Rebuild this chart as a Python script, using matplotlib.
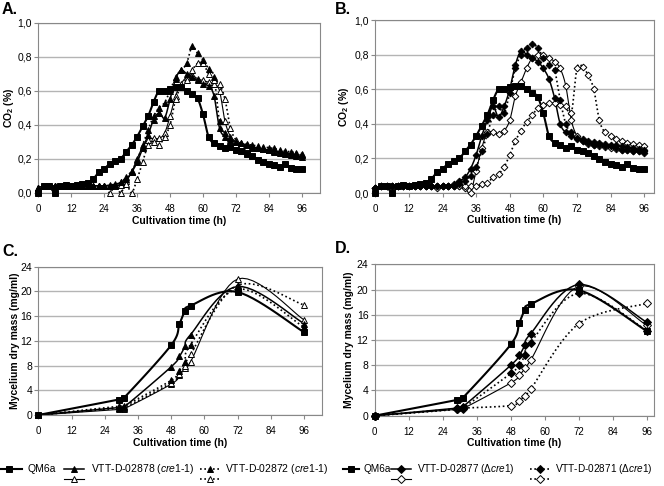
import numpy as np
import matplotlib
matplotlib.use("Agg")
import matplotlib.pyplot as plt
from matplotlib.lines import Line2D
from matplotlib.ticker import FuncFormatter

plt.rcParams["font.family"] = "Liberation Sans"
plt.rcParams["mathtext.fontset"] = "custom"
plt.rcParams["mathtext.rm"] = "Liberation Sans"
plt.rcParams["mathtext.it"] = "Liberation Sans:italic"
plt.rcParams["mathtext.bf"] = "Liberation Sans:bold"

# ---- CO2 data (every 2 h) ----
t_co2 = [0, 2, 4, 6, 8, 10, 12, 14, 16, 18, 20, 22, 24, 26, 28, 30, 32, 34, 36, 38,
         40, 42, 44, 46, 48, 50, 52, 54, 56, 58, 60, 62, 64, 66, 68, 70, 72, 74, 76, 78,
         80, 82, 84, 86, 88, 90, 92, 94, 96]

co2_qm6a = [0.00, 0.04, 0.04, 0.00, 0.04, 0.045, 0.04, 0.045, 0.05, 0.055, 0.08, 0.12, 0.14,
            0.17, 0.185, 0.20, 0.24, 0.28, 0.33, 0.39, 0.45, 0.535, 0.60, 0.60, 0.61, 0.62,
            0.62, 0.60, 0.58, 0.555, 0.46, 0.33, 0.29, 0.275, 0.26, 0.27, 0.25, 0.245, 0.23,
            0.215, 0.195, 0.18, 0.17, 0.16, 0.15, 0.17, 0.145, 0.14, 0.14]

co2_02878_f = [0.03, 0.04, 0.04, 0.04, 0.04, 0.04, 0.04, 0.04, 0.04, 0.04, 0.04, 0.04, 0.04,
               0.045, 0.05, 0.06, 0.08, 0.12, 0.18, 0.26, 0.34, 0.43, 0.47, 0.44, 0.55, 0.67,
               0.72, 0.70, 0.68, 0.66, 0.64, 0.63, 0.57, 0.38, 0.33, 0.31, 0.30, 0.29, 0.28,
               0.27, 0.26, 0.255, 0.25, 0.24, 0.235, 0.23, 0.22, 0.215, 0.21]

co2_02878_o = [0.03, 0.04, 0.04, 0.04, 0.04, 0.04, 0.04, 0.04, 0.04, 0.04, 0.04, 0.04, 0.04,
               0.04, 0.04, 0.045, 0.07, 0.12, 0.20, 0.27, 0.31, 0.32, 0.32, 0.35, 0.45, 0.57,
               0.64, 0.68, 0.69, 0.67, 0.66, 0.65, 0.64, 0.60, 0.42, 0.33, 0.30, 0.285, 0.275,
               0.27, 0.26, 0.255, 0.25, 0.245, 0.24, 0.235, 0.23, 0.225, 0.22]

co2_02872_f = [0.03, 0.04, 0.04, 0.04, 0.04, 0.04, 0.04, 0.04, 0.04, 0.04, 0.04, 0.04, 0.04,
               0.04, 0.045, 0.06, 0.09, 0.13, 0.19, 0.28, 0.37, 0.45, 0.50, 0.53, 0.60, 0.68,
               0.72, 0.76, 0.86, 0.82, 0.78, 0.73, 0.68, 0.42, 0.35, 0.32, 0.30, 0.29, 0.285,
               0.28, 0.275, 0.27, 0.265, 0.26, 0.25, 0.245, 0.24, 0.235, 0.23]

co2_02872_o = [0.03, 0.04, 0.04, 0.04, 0.04, 0.04, 0.04, 0.04, 0.04, 0.04, 0.04, 0.04, 0.04,
               0.00, 0.04, 0.00, 0.05, 0.00, 0.08, 0.18, 0.28, 0.30, 0.28, 0.33, 0.40, 0.55,
               0.62, 0.66, 0.72, 0.76, 0.76, 0.70, 0.66, 0.64, 0.55, 0.38, 0.31, 0.28, 0.27,
               0.265, 0.26, 0.255, 0.25, 0.245, 0.24, 0.235, 0.23, 0.225, 0.22]

co2_02877_f = [0.03, 0.04, 0.04, 0.04, 0.04, 0.04, 0.04, 0.04, 0.04, 0.04, 0.04, 0.04, 0.04,
               0.04, 0.05, 0.07, 0.09, 0.14, 0.22, 0.33, 0.42, 0.50, 0.44, 0.50, 0.60, 0.74,
               0.82, 0.80, 0.78, 0.76, 0.72, 0.66, 0.55, 0.40, 0.35, 0.33, 0.31, 0.30, 0.29,
               0.28, 0.28, 0.27, 0.27, 0.26, 0.25, 0.25, 0.24, 0.24, 0.23]

co2_02877_o = [0.03, 0.04, 0.04, 0.04, 0.04, 0.04, 0.04, 0.04, 0.04, 0.04, 0.04, 0.04, 0.04,
               0.04, 0.04, 0.04, 0.03, 0.00, 0.13, 0.26, 0.35, 0.35, 0.34, 0.36, 0.42, 0.56,
               0.64, 0.72, 0.78, 0.80, 0.80, 0.78, 0.76, 0.72, 0.62, 0.42, 0.33, 0.30, 0.285,
               0.275, 0.27, 0.265, 0.26, 0.255, 0.25, 0.25, 0.245, 0.24, 0.24]

co2_02871_f = [0.03, 0.04, 0.04, 0.04, 0.04, 0.04, 0.04, 0.04, 0.04, 0.04, 0.04, 0.04, 0.04,
               0.04, 0.04, 0.05, 0.07, 0.10, 0.15, 0.24, 0.34, 0.45, 0.50, 0.46, 0.58, 0.72,
               0.80, 0.84, 0.86, 0.84, 0.78, 0.74, 0.71, 0.54, 0.40, 0.35, 0.32, 0.31, 0.30,
               0.295, 0.29, 0.285, 0.28, 0.275, 0.27, 0.265, 0.26, 0.255, 0.25]

co2_02871_o = [0.03, 0.04, 0.04, 0.04, 0.04, 0.04, 0.04, 0.04, 0.04, 0.04, 0.04, 0.03, 0.04,
               0.04, 0.04, 0.04, 0.04, 0.04, 0.04, 0.05, 0.06, 0.09, 0.11, 0.15, 0.22, 0.30,
               0.36, 0.41, 0.45, 0.49, 0.51, 0.52, 0.52, 0.51, 0.50, 0.46, 0.72, 0.73, 0.68,
               0.60, 0.42, 0.35, 0.33, 0.31, 0.30, 0.29, 0.285, 0.28, 0.27]

# ---- mycelium dry mass data ----
t_dm = [0, 29, 31, 48, 51, 53, 55, 72, 96]
dm_qm6a = [0.0, 2.5, 2.8, 11.3, 14.7, 16.8, 17.7, 19.9, 13.4]
dm_02878_f = [0.0, 1.2, 1.3, 7.8, 9.5, 11.1, 13.0, 20.8, 14.8]
dm_02878_o = [0.0, 0.9, 1.0, 5.0, 6.4, 7.6, 8.6, 22.0, 15.4]
dm_02872_f = [0.0, 1.4, 1.5, 5.6, 7.2, 8.6, 11.4, 20.4, 14.2]
dm_02872_o = [0.0, 1.1, 1.2, 5.2, 6.6, 8.0, 9.8, 21.0, 17.8]
dm_02877_f = [0.0, 1.2, 1.4, 8.0, 9.6, 11.2, 13.0, 20.8, 14.8]
dm_02877_o = [0.0, 1.0, 1.1, 5.2, 6.4, 7.5, 8.8, 20.5, 14.3]
dm_02871_f = [0.0, 1.0, 1.2, 6.7, 8.0, 9.6, 11.6, 19.4, 13.5]
dm_02871_o = [0.0, 1.1, 1.2, 1.6, 2.4, 3.2, 4.2, 14.6, 17.8]

x_ticks = [0, 12, 24, 36, 48, 60, 72, 84, 96]

W, H = 664, 486
DOT = (0, (1, 1.6))


def smooth(x, y, n=14):
    # Excel-like smoothed line (Catmull-Rom through the points)
    x = np.asarray(x, float)
    y = np.asarray(y, float)
    px = np.concatenate([[x[0]], x, [x[-1]]])
    py = np.concatenate([[y[0]], y, [y[-1]]])
    s = np.linspace(0, 1, n)[:, None]
    xs, ys = [x[:1]], [y[:1]]
    for i in range(1, len(px) - 2):
        p0 = np.array([px[i - 1], py[i - 1]])
        p1 = np.array([px[i], py[i]])
        p2 = np.array([px[i + 1], py[i + 1]])
        p3 = np.array([px[i + 2], py[i + 2]])
        c1 = p1 + (p2 - p0) / 6
        c2 = p2 - (p3 - p1) / 6
        b = ((1 - s) ** 3) * p1 + 3 * ((1 - s) ** 2) * s * c1 + 3 * (1 - s) * s ** 2 * c2 + s ** 3 * p2
        xs.append(b[1:, 0])
        ys.append(b[1:, 1])
    return np.concatenate(xs), np.concatenate(ys)


def draw(ax, x, y, marker, filled, ls, lw, ms):
    xs, ys = smooth(x, y)
    ax.plot(xs, ys, color="black", ls=ls, lw=lw, zorder=2, clip_on=False)
    ax.plot(x, y, ls="none", marker=marker, ms=ms, mfc="black" if filled else "white",
            mec="black", mew=0.7, zorder=3, clip_on=False)


def style_axes(ax, xmax, ymax, ystep, fmt, ylabel, ylab_x, xlab_y):
    ax.set_xlim(0, xmax)
    ax.set_ylim(0, ymax)
    ax.set_xticks(x_ticks)
    ax.set_yticks(np.arange(0, ymax + ystep / 2, ystep))
    ax.yaxis.set_major_formatter(FuncFormatter(fmt))
    ax.yaxis.grid(True, color="#b4b4b4", lw=1.0)
    ax.set_axisbelow(True)
    for sp in ax.spines.values():
        sp.set_color("#888888")
        sp.set_linewidth(0.8)
    ax.tick_params(axis="x", direction="out", length=3, color="#888888", labelsize=7, pad=5)
    ax.tick_params(axis="y", direction="out", length=3, color="#888888", labelsize=7.5, pad=1.5)
    ax.set_xlabel("Cultivation time (h)", fontsize=7.5, fontweight="bold")
    ax.set_ylabel(ylabel, fontsize=7.5, fontweight="bold")
    ax.xaxis.set_label_coords(0.5, xlab_y)
    ax.yaxis.set_label_coords(ylab_x, 0.5)


def pix_axes(fig, left, top, right, bottom):
    return fig.add_axes([left / W, 1 - bottom / H, (right - left) / W, (bottom - top) / H])


co2_fmt = lambda v, _: f"{v:.1f}".replace(".", ",")
dm_fmt = lambda v, _: f"{v:.0f}"

fig = plt.figure(figsize=(W / 100, H / 100), dpi=100)

# A.
axA = pix_axes(fig, 38.3, 22.7, 320, 192.7)
style_axes(axA, 102.6, 1.0, 0.2, co2_fmt, r"CO$_\mathbf{2}$ (%)", -0.08, -0.135)
draw(axA, t_co2, co2_02878_o, "^", False, "-", 0.8, 4.4)
draw(axA, t_co2, co2_02872_o, "^", False, DOT, 1.2, 4.4)
draw(axA, t_co2, co2_02878_f, "^", True, "-", 1.1, 4.4)
draw(axA, t_co2, co2_02872_f, "^", True, DOT, 1.2, 4.4)
draw(axA, t_co2, co2_qm6a, "s", True, "-", 1.5, 4.2)

# B.
axB = pix_axes(fig, 375.3, 20, 653.7, 193)
style_axes(axB, 99.4, 1.0, 0.2, co2_fmt, r"CO$_\mathbf{2}$ (%)", -0.088, -0.13)
draw(axB, t_co2, co2_02877_o, "D", False, "-", 0.8, 3.4)
draw(axB, t_co2, co2_02871_o, "D", False, DOT, 1.2, 3.4)
draw(axB, t_co2, co2_02877_f, "D", True, "-", 1.1, 3.4)
draw(axB, t_co2, co2_02871_f, "D", True, DOT, 1.2, 3.4)
draw(axB, t_co2, co2_qm6a, "s", True, "-", 1.5, 4.2)

# C.
axC = pix_axes(fig, 38.3, 266.7, 321.7, 415)
style_axes(axC, 102.4, 24, 4, dm_fmt, "Mycelium dry mass (mg/ml)", -0.064, -0.155)
draw(axC, t_dm, dm_02878_o, "^", False, "-", 0.8, 5)
draw(axC, t_dm, dm_02872_o, "^", False, DOT, 1.2, 5)
draw(axC, t_dm, dm_02878_f, "^", True, "-", 1.1, 5)
draw(axC, t_dm, dm_02872_f, "^", True, DOT, 1.2, 5)
draw(axC, t_dm, dm_qm6a, "s", True, "-", 1.5, 4.8)

# D.
axD = pix_axes(fig, 374.7, 264.3, 653.7, 415.7)
style_axes(axD, 98.4, 24, 4, dm_fmt, "Mycelium dry mass (mg/ml)", -0.074, -0.15)
draw(axD, t_dm, dm_02877_o, "D", False, "-", 0.8, 4)
draw(axD, t_dm, dm_02871_o, "D", False, DOT, 1.2, 4)
draw(axD, t_dm, dm_02877_f, "D", True, "-", 1.1, 4)
draw(axD, t_dm, dm_02871_f, "D", True, DOT, 1.2, 4)
draw(axD, t_dm, dm_qm6a, "s", True, "-", 1.5, 4.8)

# panel letters
for lbl, px, py in [("A.", 2, 9), ("B.", 335, 9), ("C.", 2, 251), ("D.", 335, 248)]:
    fig.text(px / W, 1 - py / H, lbl, fontsize=11.5, fontweight="bold", va="center", ha="left")


# legends drawn below C and D
def leg_entry(x0, x1, y, marker, filled, ls, lw, ms):
    fig.add_artist(Line2D([x0 / W, x1 / W], [1 - y / H, 1 - y / H], color="black", ls=ls, lw=lw))
    fig.add_artist(Line2D([(x0 + x1) / 2 / W], [1 - y / H], ls="none", marker=marker, ms=ms,
                          mfc="black" if filled else "white", mec="black", mew=0.7))


r1, r2 = 468.5, 479
leg_fs = 7.5
# C legend
leg_entry(-4, 22, r1, "s", True, "-", 1.5, 4.5)
fig.text(28 / W, 1 - r1 / H, "QM6a", fontsize=leg_fs, va="center")
leg_entry(64, 84, r1, "^", True, "-", 1.1, 5)
leg_entry(64, 84, r2, "^", False, "-", 0.8, 5)
fig.text(91 / W, 1 - r1 / H, r"VTT-D-02878 ($\it{cre1}$-$\it{1}$)", fontsize=leg_fs, va="center")
leg_entry(200, 220, r1, "^", True, DOT, 1.2, 5)
leg_entry(200, 220, r2, "^", False, DOT, 1.2, 5)
fig.text(225 / W, 1 - r1 / H, r"VTT-D-02872 ($\it{cre1}$-$\it{1}$)", fontsize=leg_fs, va="center")
# D legend
leg_fs_d = 7.2
leg_entry(343, 359, r1, "s", True, "-", 1.5, 4.5)
fig.text(363 / W, 1 - r1 / H, "QM6a", fontsize=leg_fs_d, va="center")
leg_entry(391, 411, r1, "D", True, "-", 1.1, 4)
leg_entry(391, 411, r2, "D", False, "-", 0.8, 4)
fig.text(417 / W, 1 - r1 / H, r"VTT-D-02877 (Δ$\it{cre1}$)", fontsize=leg_fs_d, va="center")
leg_entry(530, 550, r1, "D", True, DOT, 1.2, 4)
leg_entry(530, 550, r2, "D", False, DOT, 1.2, 4)
fig.text(555 / W, 1 - r1 / H, r"VTT-D-02871 (Δ$\it{cre1}$)", fontsize=leg_fs_d, va="center")

fig.savefig("out.png", dpi=100)
